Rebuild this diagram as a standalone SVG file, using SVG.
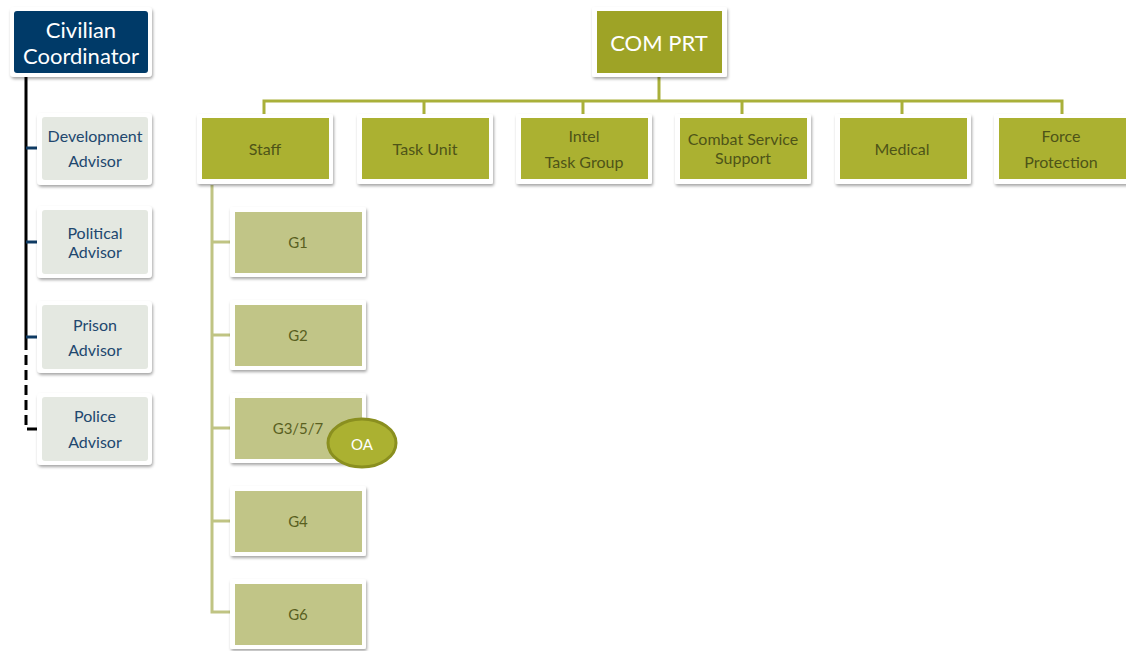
<svg xmlns="http://www.w3.org/2000/svg" width="1126" height="651" viewBox="0 0 1126 651">
<defs>
<filter id="sh" x="-10%" y="-10%" width="125%" height="130%">
<feDropShadow dx="1" dy="2" stdDeviation="1.5" flood-color="#000" flood-opacity="0.35"/>
</filter>
<style>
.frame{fill:#fff;filter:url(#sh)}
.civ{fill:#003a68}
.adv{fill:#e4e8e1}
.com{fill:#9ea326}
.l2{fill:#abb131}
.g{fill:#c1c587}
text{font-family:Lato,"Open Sans","Liberation Sans",sans-serif;text-anchor:middle;dominant-baseline:central}
.wt{fill:#fff;font-size:22px}
.at{fill:#21476e;font-size:16px}
.lt{fill:#4e5418;font-size:16px}
.gt{fill:#59601f;font-size:15px}
.blk{stroke:#000;stroke-width:3;fill:none}
.nav{stroke:#0e3a63;stroke-width:3;fill:none}
.ol{stroke:#a9b03a;stroke-width:3;fill:none}
.lg{stroke:#c0c483;stroke-width:3;fill:none}
</style>
</defs>
<g id="connectors">
<line class="blk" x1="26" y1="76" x2="26" y2="340"/>
<path class="blk" d="M26 340 V429 H38" stroke-dasharray="10 5"/>
<line class="nav" x1="26" y1="148" x2="38" y2="148"/>
<line class="nav" x1="26" y1="242" x2="38" y2="242"/>
<line class="nav" x1="26" y1="337" x2="38" y2="337"/>
<path class="ol" d="M659 77 V101 M264 117 V101 H1062 V117 M424 101 V117 M583 101 V117 M742 101 V117 M902 101 V117"/>
<path class="lg" d="M212 185 V612 H231 M212 242 H231 M212 335 H231 M212 428 H231 M212 521 H231"/>
</g>
<g id="civilian-coordinator">
<rect class="frame" x="10" y="7" width="142" height="70" rx="4"/>
<rect class="civ" x="14" y="11" width="134" height="62" rx="3"/>
<text class="wt" x="81" y="29">Civilian</text>
<text class="wt" x="81" y="55">Coordinator</text>
</g>
<g id="development-advisor">
<rect class="frame" x="37" y="113" width="115" height="72" rx="4"/>
<rect class="adv" x="42" y="117" width="106" height="63" rx="3"/>
<text class="at" x="95" y="135">Development</text>
<text class="at" x="95" y="160">Advisor</text>
</g>
<g id="political-advisor">
<rect class="frame" x="37" y="206" width="115" height="72" rx="4"/>
<rect class="adv" x="42" y="210" width="106" height="64" rx="3"/>
<text class="at" x="95" y="232">Political</text>
<text class="at" x="95" y="251">Advisor</text>
</g>
<g id="prison-advisor">
<rect class="frame" x="37" y="301" width="115" height="72" rx="4"/>
<rect class="adv" x="42" y="305" width="106" height="64" rx="3"/>
<text class="at" x="95" y="324">Prison</text>
<text class="at" x="95" y="349">Advisor</text>
</g>
<g id="police-advisor">
<rect class="frame" x="37" y="393" width="115" height="72" rx="4"/>
<rect class="adv" x="42" y="397" width="106" height="64" rx="3"/>
<text class="at" x="95" y="415">Police</text>
<text class="at" x="95" y="441">Advisor</text>
</g>
<g id="com-prt">
<rect class="frame" x="592" y="7" width="135" height="70" rx="2"/>
<rect class="com" x="597" y="11" width="125" height="62"/>
<text class="wt" x="659" y="42">COM PRT</text>
</g>
<g id="staff">
<rect class="frame" x="197" y="114" width="136" height="70" rx="2"/>
<rect class="l2" x="202" y="118" width="127" height="61"/>
<text class="lt" x="265" y="148">Staff</text>
</g>
<g id="task-unit">
<rect class="frame" x="357" y="114" width="136" height="70" rx="2"/>
<rect class="l2" x="362" y="118" width="127" height="61"/>
<text class="lt" x="425" y="148">Task Unit</text>
</g>
<g id="intel-task-group">
<rect class="frame" x="516" y="114" width="136" height="70" rx="2"/>
<rect class="l2" x="521" y="118" width="127" height="61"/>
<text class="lt" x="584" y="135">Intel</text>
<text class="lt" x="584" y="161">Task Group</text>
</g>
<g id="combat-service-support">
<rect class="frame" x="675" y="114" width="136" height="70" rx="2"/>
<rect class="l2" x="680" y="118" width="127" height="61"/>
<text class="lt" x="743" y="138">Combat Service</text>
<text class="lt" x="743" y="157">Support</text>
</g>
<g id="medical">
<rect class="frame" x="835" y="114" width="136" height="70" rx="2"/>
<rect class="l2" x="840" y="118" width="127" height="61"/>
<text class="lt" x="902" y="148">Medical</text>
</g>
<g id="force-protection">
<rect class="frame" x="994" y="114" width="136" height="70" rx="2"/>
<rect class="l2" x="999" y="118" width="127" height="61"/>
<text class="lt" x="1061" y="135">Force</text>
<text class="lt" x="1061" y="161">Protection</text>
</g>
<g id="g1">
<rect class="frame" x="230" y="207" width="136" height="70" rx="2"/>
<rect class="g" x="235" y="212" width="127" height="61"/>
<text class="gt" x="298" y="242">G1</text>
</g>
<g id="g2">
<rect class="frame" x="230" y="300" width="136" height="70" rx="2"/>
<rect class="g" x="235" y="305" width="127" height="61"/>
<text class="gt" x="298" y="335">G2</text>
</g>
<g id="g357">
<rect class="frame" x="230" y="393" width="136" height="70" rx="2"/>
<rect class="g" x="235" y="398" width="127" height="61"/>
<text class="gt" x="298" y="428">G3/5/7</text>
</g>
<g id="oa">
<ellipse cx="362" cy="443" rx="34" ry="24" fill="#abb131" stroke="#8a8f1f" stroke-width="3"/>
<text x="362" y="444" fill="#fff" style="font-size:15px">OA</text>
</g>
<g id="g4">
<rect class="frame" x="230" y="486" width="136" height="70" rx="2"/>
<rect class="g" x="235" y="491" width="127" height="61"/>
<text class="gt" x="298" y="521">G4</text>
</g>
<g id="g6">
<rect class="frame" x="230" y="579" width="136" height="70" rx="2"/>
<rect class="g" x="235" y="584" width="127" height="61"/>
<text class="gt" x="298" y="614">G6</text>
</g>
</svg>
